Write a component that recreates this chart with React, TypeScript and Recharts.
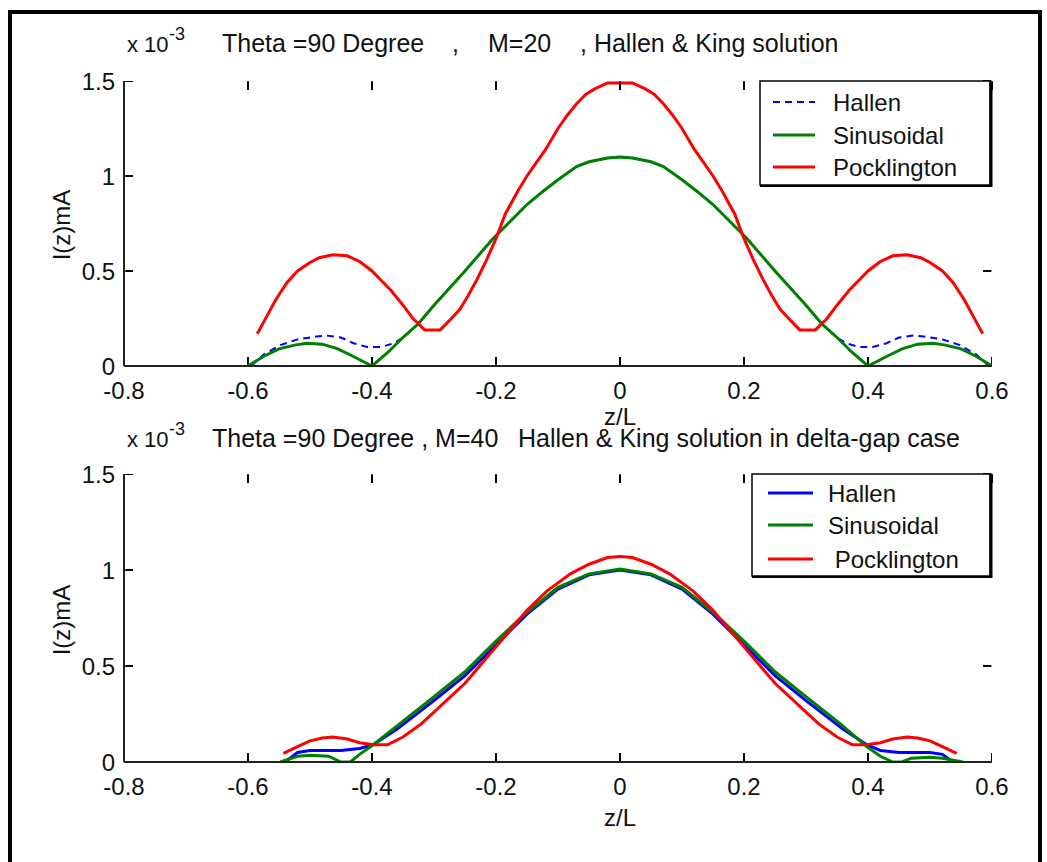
import { LineChart, Line, XAxis, YAxis, ReferenceLine } from 'recharts'

const xTicks = [-0.8, -0.6, -0.4, -0.2, 0, 0.2, 0.4, 0.6]
const yTicks = [0, 0.5, 1, 1.5]

// M=20 panel
const zHallen20 = [-0.595, -0.575, -0.548, -0.52, -0.49, -0.473, -0.45, -0.43, -0.408, -0.385, -0.365, -0.35, -0.326, -0.3, -0.25, -0.205, -0.15, -0.124, -0.1, -0.07, -0.05, -0.02, 0, 0.02, 0.05, 0.07, 0.1, 0.124, 0.15, 0.205, 0.25, 0.3, 0.326, 0.35, 0.365, 0.385, 0.408, 0.43, 0.45, 0.473, 0.49, 0.52, 0.548, 0.575, 0.595]
const hallen20 = [0, 0.06, 0.11, 0.14, 0.155, 0.16, 0.15, 0.12, 0.1, 0.1, 0.12, 0.15, 0.22, 0.32, 0.5, 0.67, 0.85, 0.92, 0.98, 1.05, 1.075, 1.095, 1.1, 1.095, 1.075, 1.05, 0.98, 0.92, 0.85, 0.67, 0.5, 0.32, 0.22, 0.15, 0.12, 0.1, 0.1, 0.12, 0.15, 0.16, 0.155, 0.14, 0.11, 0.06, 0]
const zSin20 = [-0.6, -0.575, -0.55, -0.525, -0.505, -0.48, -0.455, -0.43, -0.4, -0.375, -0.35, -0.326, -0.3, -0.25, -0.205, -0.15, -0.124, -0.1, -0.07, -0.05, -0.02, 0, 0.02, 0.05, 0.07, 0.1, 0.124, 0.15, 0.205, 0.25, 0.3, 0.326, 0.35, 0.375, 0.4, 0.43, 0.455, 0.48, 0.505, 0.525, 0.55, 0.575, 0.6]
const sin20 = [0, 0.05, 0.09, 0.11, 0.12, 0.115, 0.09, 0.05, 0, 0.07, 0.15, 0.22, 0.32, 0.5, 0.67, 0.85, 0.92, 0.98, 1.05, 1.075, 1.095, 1.1, 1.095, 1.075, 1.05, 0.98, 0.92, 0.85, 0.67, 0.5, 0.32, 0.22, 0.15, 0.07, 0, 0.05, 0.09, 0.115, 0.12, 0.11, 0.09, 0.05, 0]
const zPock20 = [-0.585, -0.57, -0.555, -0.537, -0.52, -0.5, -0.485, -0.463, -0.44, -0.42, -0.4, -0.385, -0.37, -0.35, -0.334, -0.315, -0.29, -0.275, -0.258, -0.245, -0.23, -0.215, -0.2, -0.185, -0.165, -0.15, -0.135, -0.12, -0.1, -0.085, -0.07, -0.055, -0.04, -0.02, 0, 0.02, 0.04, 0.055, 0.07, 0.085, 0.1, 0.12, 0.135, 0.15, 0.165, 0.185, 0.2, 0.215, 0.23, 0.245, 0.258, 0.275, 0.29, 0.315, 0.334, 0.35, 0.37, 0.385, 0.4, 0.42, 0.44, 0.463, 0.485, 0.5, 0.52, 0.537, 0.555, 0.57, 0.585]
const pock20 = [0.17, 0.26, 0.35, 0.44, 0.5, 0.545, 0.57, 0.585, 0.58, 0.55, 0.5, 0.45, 0.4, 0.32, 0.25, 0.19, 0.19, 0.24, 0.3, 0.37, 0.46, 0.56, 0.67, 0.8, 0.92, 1.0, 1.07, 1.14, 1.25, 1.32, 1.38, 1.43, 1.46, 1.49, 1.49, 1.49, 1.46, 1.43, 1.38, 1.32, 1.25, 1.14, 1.07, 1.0, 0.92, 0.8, 0.67, 0.56, 0.46, 0.37, 0.3, 0.24, 0.19, 0.19, 0.25, 0.32, 0.4, 0.45, 0.5, 0.55, 0.58, 0.585, 0.57, 0.545, 0.5, 0.44, 0.35, 0.26, 0.17]

// M=40 panel
const zHallen40 = [-0.54, -0.52, -0.5, -0.47, -0.45, -0.42, -0.398, -0.36, -0.3, -0.25, -0.2, -0.15, -0.1, -0.05, 0, 0.05, 0.1, 0.15, 0.2, 0.25, 0.3, 0.36, 0.398, 0.42, 0.45, 0.47, 0.5, 0.52, 0.537]
const hallen40 = [0, 0.05, 0.06, 0.06, 0.06, 0.07, 0.09, 0.17, 0.32, 0.45, 0.61, 0.77, 0.9, 0.975, 1.0, 0.975, 0.9, 0.77, 0.61, 0.45, 0.32, 0.17, 0.09, 0.06, 0.05, 0.05, 0.05, 0.04, 0]
const zSin40 = [-0.548, -0.52, -0.5, -0.47, -0.45, -0.435, -0.42, -0.398, -0.355, -0.3, -0.25, -0.2, -0.15, -0.1, -0.05, 0, 0.05, 0.1, 0.15, 0.2, 0.25, 0.3, 0.355, 0.398, 0.42, 0.44, 0.455, 0.47, 0.5, 0.52, 0.553]
const sin40 = [0, 0.03, 0.035, 0.03, 0, 0, 0.04, 0.09, 0.2, 0.34, 0.47, 0.63, 0.78, 0.91, 0.98, 1.005, 0.98, 0.91, 0.78, 0.63, 0.47, 0.34, 0.2, 0.08, 0.03, 0, 0, 0.02, 0.025, 0.02, 0]
const zPock40 = [-0.543, -0.52, -0.5, -0.48, -0.463, -0.44, -0.42, -0.398, -0.375, -0.35, -0.32, -0.3, -0.25, -0.2, -0.15, -0.118, -0.08, -0.05, -0.02, 0, 0.02, 0.05, 0.08, 0.118, 0.15, 0.2, 0.25, 0.3, 0.32, 0.35, 0.375, 0.398, 0.42, 0.44, 0.463, 0.48, 0.5, 0.52, 0.543]
const pock40 = [0.045, 0.08, 0.11, 0.125, 0.13, 0.12, 0.1, 0.09, 0.09, 0.13, 0.2, 0.26, 0.41, 0.6, 0.79, 0.89, 0.98, 1.03, 1.065, 1.07, 1.065, 1.03, 0.98, 0.89, 0.79, 0.6, 0.41, 0.26, 0.2, 0.13, 0.09, 0.09, 0.1, 0.12, 0.13, 0.125, 0.11, 0.08, 0.045]

const pts = (z: number[], v: number[]) => z.map((x, i) => ({ z: x, v: v[i] }))

const FONT = '"Liberation Sans", Arial, sans-serif'
const AX = '#222'
const BLUE = '#0000ff'
const GREEN = '#008000'
const RED = '#ff0000'

const X_MIN = -0.8
const X_MAX = 0.6
const Y_MAX = 1.5
const PLOT_W = 868
const TICK_PX = 9

type TickProps = { x?: number; y?: number; payload?: { value: number } }

function BottomLabel({ x = 0, y = 0, payload }: TickProps) {
  return (
    <text x={x} y={y + 33} textAnchor="middle" fontSize={24} fill="#111" stroke="none" fontFamily={FONT}>
      {String(payload?.value)}
    </text>
  )
}
function LeftLabel({ x = 0, y = 0, payload }: TickProps) {
  return (
    <text x={x - 9} y={y + 8.5} textAnchor="end" fontSize={24} fill="#111" stroke="none" fontFamily={FONT}>
      {String(payload?.value)}
    </text>
  )
}

function Panel({ top, height, mTop, mBottom, hallenDashed, series }: {
  top: number
  height: number
  mTop: number
  mBottom: number
  hallenDashed: boolean
  series: { z: number[]; v: number[] }[]
}) {
  const [h, s, p] = series
  const plotH = height - mTop - mBottom - 30
  // inward box ticks, length in data units; kept a hair inside the domain edge
  const ty = (Y_MAX * TICK_PX) / plotH
  const tx = ((X_MAX - X_MIN) * TICK_PX) / PLOT_W
  const eps = 0.002
  const tickSeg = { stroke: '#000', strokeWidth: 2, ifOverflow: 'visible' as const }
  return (
    <LineChart
      width={1047}
      height={height}
      margin={{ top: mTop, right: 55, bottom: mBottom, left: 64 }}
      style={{ position: 'absolute', left: 0, top }}
    >
      <XAxis type="number" dataKey="z" domain={[X_MIN, X_MAX]} ticks={xTicks} interval={0} allowDataOverflow
        height={30} tickSize={0} tickMargin={0} tickLine={false} tick={(props: TickProps) => <BottomLabel {...props} />}
        stroke={AX} strokeWidth={2} />
      <XAxis xAxisId="top" orientation="top" type="number" dataKey="z" domain={[X_MIN, X_MAX]} ticks={xTicks}
        allowDataOverflow height={0} tickLine={false} tick={false} stroke={AX} strokeWidth={2} />
      <YAxis type="number" domain={[0, Y_MAX]} ticks={yTicks} interval={0} allowDataOverflow width={60}
        tickSize={0} tickMargin={0} tickLine={false} tick={(props: TickProps) => <LeftLabel {...props} />}
        stroke={AX} strokeWidth={2} />
      <YAxis yAxisId="right" orientation="right" type="number" domain={[0, Y_MAX]} ticks={yTicks}
        allowDataOverflow width={0} tickLine={false} tick={false} stroke={AX} strokeWidth={2} />

      {/* bottom and left inward ticks as short black segments */}
      {xTicks.map((t) => (
        <Line key={`b${t}`} data={[{ z: t, v: eps }, { z: t, v: ty }]} dataKey="v" type="linear"
          stroke="#000" strokeWidth={2} dot={false} activeDot={false} isAnimationActive={false} />
      ))}
      {yTicks.map((t) => (
        <Line key={`l${t}`} data={[{ z: X_MIN + eps, v: t }, { z: X_MIN + tx, v: t }]} dataKey="v" type="linear"
          stroke="#000" strokeWidth={2} dot={false} activeDot={false} isAnimationActive={false} />
      ))}

      <Line
        data={pts(h.z, h.v)}
        dataKey="v"
        type="linear"
        stroke={BLUE}
        strokeWidth={hallenDashed ? 2 : 3}
        strokeDasharray={hallenDashed ? '7 5' : undefined}
        dot={false}
        isAnimationActive={false}
      />
      <Line data={pts(s.z, s.v)} dataKey="v" type="linear" stroke={GREEN} strokeWidth={3} dot={false} isAnimationActive={false} />
      <Line data={pts(p.z, p.v)} dataKey="v" type="linear" stroke={RED} strokeWidth={3} dot={false} isAnimationActive={false} />

      {xTicks.map((t) => (
        <ReferenceLine key={`t${t}`} segment={[{ x: t, y: Y_MAX - 0.001 }, { x: t, y: Y_MAX - ty }]} {...tickSeg} />
      ))}
      {yTicks.map((t) => (
        <ReferenceLine key={`r${t}`} segment={[{ x: X_MAX - 0.001, y: t }, { x: X_MAX - tx, y: t }]} {...tickSeg} />
      ))}
    </LineChart>
  )
}

function LegendBox({ x, y, w, h, rows, sample, textX, dashed, names }: {
  x: number
  y: number
  w: number
  h: number
  rows: number[]
  sample: [number, number]
  textX: number
  dashed: boolean
  names: string[]
}) {
  const colors = [BLUE, GREEN, RED]
  return (
    <g>
      <rect x={x} y={y} width={w} height={h} fill="#fff" stroke="#000" strokeWidth={1.5} />
      <line x1={x + w + 1} y1={y} x2={x + w + 1} y2={y + h + 2} stroke="#000" strokeWidth={3} />
      <line x1={x} y1={y + h + 1} x2={x + w + 2} y2={y + h + 1} stroke="#000" strokeWidth={2} />
      {names.map((name, i) => (
        <g key={name}>
          <line
            x1={sample[0]}
            x2={sample[1]}
            y1={rows[i]}
            y2={rows[i]}
            stroke={colors[i]}
            strokeWidth={i === 0 && dashed ? 2 : 3}
            strokeDasharray={i === 0 && dashed ? '7 5' : undefined}
          />
          <text x={textX} y={rows[i] + 9} fontSize={24} fill="#111" fontFamily={FONT} style={{ whiteSpace: 'pre' }}>
            {name}
          </text>
        </g>
      ))}
    </g>
  )
}

export default function App() {
  return (
    <div style={{ position: 'absolute', left: 0, top: 0, width: 1047, height: 862, background: '#fff', overflow: 'hidden' }}>
      <div style={{ position: 'absolute', left: 8, top: 10, width: 1034, height: 900, border: '4px solid #000', boxSizing: 'border-box' }} />
      <Panel
        top={0}
        height={430}
        mTop={81}
        mBottom={34}
        hallenDashed
        series={[{ z: zHallen20, v: hallen20 }, { z: zSin20, v: sin20 }, { z: zPock20, v: pock20 }]}
      />
      <Panel
        top={430}
        height={432}
        mTop={44}
        mBottom={70}
        hallenDashed={false}
        series={[{ z: zHallen40, v: hallen40 }, { z: zSin40, v: sin40 }, { z: zPock40, v: pock40 }]}
      />
      <svg width={1047} height={862} style={{ position: 'absolute', left: 0, top: 0, pointerEvents: 'none' }}>
        <g fontFamily={FONT} fill="#111">
          {/* top panel titles */}
          <text x={127} y={52} fontSize={22}>x 10</text>
          <text x={169} y={40} fontSize={18}>-3</text>
          <text x={222} y={52} fontSize={25}>Theta =90 Degree</text>
          <text x={452} y={52} fontSize={25}>,</text>
          <text x={488} y={52} fontSize={25}>M=20</text>
          <text x={580} y={52} fontSize={25}>, Hallen &amp; King solution</text>
          <text x={620} y={425} fontSize={24} textAnchor="middle">z/L</text>
          <text x={70} y={225} fontSize={24} textAnchor="middle" transform="rotate(-90 70 225)">I(z)mA</text>

          {/* bottom panel titles */}
          <text x={127} y={447} fontSize={22}>x 10</text>
          <text x={169} y={435} fontSize={18}>-3</text>
          <text x={212} y={447} fontSize={25}>Theta =90 Degree , M=40</text>
          <text x={518} y={447} fontSize={25}>Hallen &amp; King solution in delta-gap case</text>
          <text x={620} y={826} fontSize={24} textAnchor="middle">z/L</text>
          <text x={70} y={620} fontSize={24} textAnchor="middle" transform="rotate(-90 70 620)">I(z)mA</text>
        </g>
        <LegendBox x={760} y={81} w={230} h={104} rows={[102, 135, 167]} sample={[773, 815]} textX={833} dashed
          names={['Hallen', 'Sinusoidal', 'Pocklington']} />
        <LegendBox x={752} y={474} w={238} h={102} rows={[493, 525, 559]} sample={[768, 813]} textX={828} dashed={false}
          names={['Hallen', 'Sinusoidal', ' Pocklington']} />
      </svg>
    </div>
  )
}
